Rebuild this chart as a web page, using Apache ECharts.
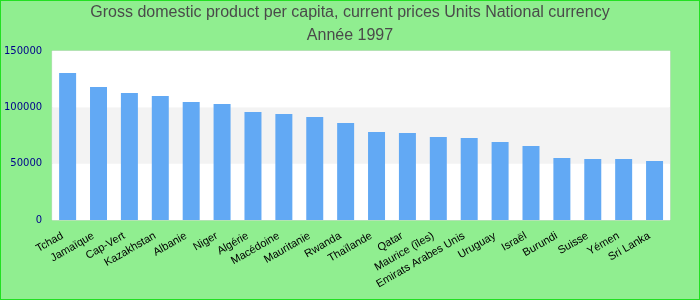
<!DOCTYPE html>
<html><head><meta charset="utf-8">
<script src="https://cdn.jsdelivr.net/npm/echarts@6/dist/echarts.min.js"></script>
<style>html,body{margin:0;padding:0;}#c{width:700px;height:300px;box-sizing:border-box;border:1px solid #22e022;background:#90EE90;}</style>
</head><body><div id="c"></div>
<script>
const categories = ["Tchad","Jamaïque","Cap-Vert","Kazakhstan","Albanie","Niger","Algérie","Macédoine","Mauritanie","Rwanda","Thaïlande","Qatar","Maurice (îles)","Emirats Arabes Unis","Uruguay","Israël","Burundi","Suisse","Yémen","Sri Lanka"];
const values = [130500,118000,112700,110000,104700,103000,95900,94100,91400,86100,78100,77200,73700,72800,69200,65700,55000,54200,54200,52400];
const titleLines = ["Gross domestic product per capita, current prices Units National currency","Année 1997"];

const chart = echarts.init(document.getElementById('c'), null, {renderer:'canvas'});
chart.setOption({
  backgroundColor: 'transparent',
  animation: false,
  title: {
    text: titleLines.join('\n'),
    left: 'center', top: 0, padding: [0, 5],
    textStyle: {color:'#4a4a4a', fontFamily:'Liberation Sans, Arial', fontSize:16, fontWeight:'normal', lineHeight:23}
  },
  grid: {left:49, right:29, top:50, bottom:79, show:true, backgroundColor:'#fff', borderColor:'#d8d8d8', borderWidth:1},
  xAxis: {
    type:'category', data: categories,
    axisLine:{show:false}, axisTick:{show:false},
    axisLabel:{rotate:30, interval:0, color:'#000', fontFamily:'Liberation Sans, Arial', fontSize:11, margin:12, padding:[0,6,0,0]}
  },
  yAxis: {
    type:'value', min:0, max:150000, interval:50000,
    axisLine:{show:false}, axisTick:{show:false},
    splitLine:{show:false},
    splitArea:{show:true, areaStyle:{color:['#ffffff','#f3f3f3']}},
    axisLabel:{color:'#00008b', fontFamily:'DejaVu Sans', fontSize:10, margin:10, formatter: v => String(v)}
  },
  series: [{type:'bar', data: values, barWidth:'55%', itemStyle:{color:'#62a9f4'}}]
});
</script></body></html>
